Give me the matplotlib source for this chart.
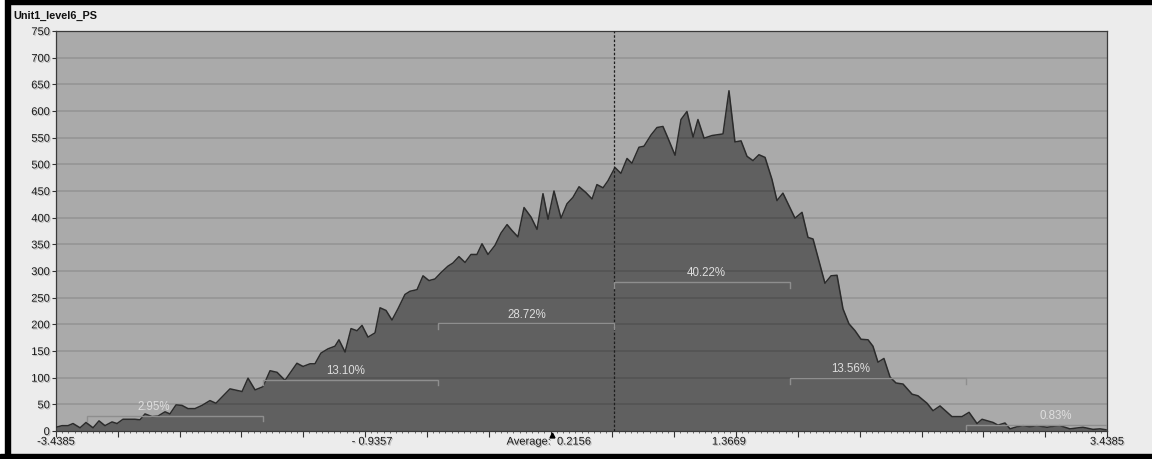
import numpy as np
import matplotlib
matplotlib.use("Agg")
import matplotlib.pyplot as plt
from matplotlib.patches import Rectangle
from matplotlib.transforms import blended_transform_factory
import matplotlib.patheffects as pe

plt.rcParams['font.family'] = ['Liberation Sans', 'DejaVu Sans']

# ---- data -------------------------------------------------------------
title = "Unit1_level6_PS"
x_min, x_max = -3.4385, 3.4385
mean_val = 0.2156
std_val = 1.1513

bin_x = [
    -3.4385, -3.399, -3.360, -3.327, -3.281, -3.242, -3.196, -3.157, -3.118, -3.072,
    -3.039, -3.000, -2.961, -2.922, -2.889, -2.856, -2.810, -2.771, -2.725, -2.693,
    -2.653, -2.614, -2.575, -2.529, -2.483, -2.431, -2.392, -2.300, -2.221, -2.182,
    -2.136, -2.084, -2.038, -1.992, -1.940, -1.862, -1.822, -1.776, -1.744, -1.705,
    -1.659, -1.613, -1.587, -1.547, -1.508, -1.469, -1.436, -1.397, -1.351, -1.318,
    -1.279, -1.240, -1.201, -1.155, -1.122, -1.076, -1.037, -0.998, -0.959, -0.919,
    -0.874, -0.841, -0.802, -0.762, -0.723, -0.684, -0.651, -0.612, -0.566, -0.527,
    -0.487, -0.455, -0.416, -0.376, -0.330, -0.291, -0.252, -0.219, -0.180, -0.134,
    -0.095, -0.056, -0.016, 0.029, 0.069, 0.101, 0.141, 0.173, 0.219, 0.258,
    0.298, 0.330, 0.376, 0.409, 0.455, 0.494, 0.533, 0.566, 0.612, 0.651,
    0.690, 0.730, 0.762, 0.802, 0.854, 0.926, 0.965, 1.004, 1.044, 1.083,
    1.122, 1.161, 1.201, 1.246, 1.279, 1.318, 1.397, 1.443, 1.482, 1.515,
    1.593, 1.633, 1.672, 1.711, 1.750, 1.790, 1.829, 1.875, 1.907, 1.940,
    1.979, 2.019, 2.058, 2.104, 2.163, 2.202, 2.261, 2.300, 2.346, 2.424,
    2.490, 2.536, 2.588, 2.621, 2.693, 2.725, 2.771, 2.804, 2.850, 2.889,
    2.935, 2.980, 3.046, 3.092, 3.131, 3.196, 3.281, 3.347, 3.393, 3.4385,
]
counts = [
    7, 10, 10, 14, 6, 16, 6, 19, 10, 17,
    14, 22, 22, 22, 21, 32, 27, 28, 36, 32,
    49, 48, 42, 42, 48, 57, 52, 79, 74, 99,
    77, 83, 113, 110, 95, 127, 121, 126, 126, 146,
    154, 159, 171, 148, 192, 188, 198, 176, 184, 231,
    226, 208, 229, 256, 262, 265, 291, 282, 285, 297,
    309, 315, 327, 316, 331, 331, 351, 331, 348, 371,
    387, 376, 364, 419, 401, 378, 445, 397, 450, 399,
    426, 438, 458, 447, 435, 462, 456, 469, 494, 483,
    511, 502, 532, 534, 555, 569, 571, 549, 517, 584,
    599, 551, 584, 549, 554, 557, 638, 542, 544, 515,
    507, 518, 513, 472, 432, 446, 399, 410, 363, 360,
    277, 291, 292, 229, 201, 188, 172, 171, 159, 129,
    136, 101, 90, 88, 69, 66, 52, 38, 47, 27,
    27, 35, 14, 22, 16, 11, 15, 4, 8, 10,
    8, 10, 7, 9, 10, 4, 7, 3, 4, 2,
]

# share of samples inside each sigma band, and the bracket heights
band_labels = ["2.95%", "13.10%", "28.72%", "40.22%", "13.56%", "0.83%"]
band_sigma = [(-3, -2), (-2, -1), (-1, 0), (0, 1), (1, 2), (2, 3)]
band_height = [28, 96, 202, 279, 99, 12]

y_ticks = list(range(0, 751, 50))

# ---- figure -----------------------------------------------------------
W, H = 1152, 460
fig = plt.figure(figsize=(W / 100, H / 100), dpi=100, facecolor="#ececec")

# window frame
fig.patches.append(Rectangle((0, 1 - 5 / H), 1, 5 / H, transform=fig.transFigure,
                             color="black", zorder=0))
fig.patches.append(Rectangle((0, 0), 5 / W, 1, transform=fig.transFigure,
                             color="white", zorder=0))
fig.patches.append(Rectangle((5 / W, 0), 5 / W, 1, transform=fig.transFigure,
                             color="black", zorder=0))
fig.patches.append(Rectangle((0, 0), 1, 5 / H, transform=fig.transFigure,
                             color="black", zorder=0))

ax_l, ax_r, ax_t, ax_b = 56, 1107, 32, 432
ax = fig.add_axes([ax_l / W, 1 - ax_b / H, (ax_r - ax_l) / W, (ax_b - ax_t) / H])
ax.set_facecolor("#aaaaaa")
ax.set_xlim(x_min, x_max)
ax.set_ylim(0, 750)

shadow = [pe.withSimplePatchShadow(offset=(0.8, -0.8), shadow_rgbFace="#9a9a9a", alpha=0.6)]

# histogram area
ax.fill_between(bin_x, counts, 0, color="#606060", zorder=2, linewidth=0)
ax.plot(bin_x, counts, color="#2b2b2b", lw=1.1, zorder=3)

# horizontal grid over the fill
for v in y_ticks[1:]:
    ax.axhline(v, color="black", alpha=0.11, lw=1.4, zorder=2.5)

# mean marker line
ax.axvline(mean_val, color="#1e1e1e", lw=0.9, ls=(0, (2, 1.5)), zorder=4)

# sigma brackets, with the label anchor given in sigma units
label_sigma = [-2.62, -1.53, -0.50, 0.52, 1.34, 2.51]
tick_drop = 10
for lab, (k0, k1), h, ks in zip(band_labels, band_sigma, band_height, label_sigma):
    xa = max(mean_val + k0 * std_val, x_min)
    xb = min(mean_val + k1 * std_val, x_max)
    ax.plot([xa, xa, xb, xb], [h - tick_drop, h, h, h - tick_drop],
            color="#8e8e8e", lw=1.0, zorder=5, solid_joinstyle="miter")
    ax.text(mean_val + ks * std_val, h + 7, lab, ha="center", va="bottom",
            fontsize=8.3, color="#dedede", zorder=6)

# y axis
ax.set_yticks(y_ticks)
ax.set_yticklabels([str(v) for v in y_ticks], fontsize=8, color="#1a1a1a")
for t in ax.get_yticklabels():
    t.set_path_effects(shadow)
ax.tick_params(axis="y", length=3, width=0.8, color="#333333", pad=1.5)

# x axis: plain tick marks, labels placed separately
major = np.linspace(x_min, x_max, 18)
minor = np.linspace(x_min, x_max, 18 * 10 - 9)
ax.set_xticks(major)
ax.set_xticks(minor, minor=True)
ax.set_xticklabels([])
ax.tick_params(axis="x", which="major", length=4, width=0.8, color="#333333")
ax.tick_params(axis="x", which="minor", length=1.6, width=0.6, color="#555555")

tr = blended_transform_factory(ax.transData, ax.transAxes)
x_labels = [(x_min, "-3.4385"), (-1.371, "- 0.9357"), (0.965, "1.3669"), (x_max, "3.4385")]
for xp, s in x_labels:
    t = ax.text(xp, -0.014, s, transform=tr, ha="center", va="top", fontsize=8,
                color="#1a1a1a")
    t.set_path_effects(shadow)
t = ax.text(-0.213, -0.014, "Average:  " + f"{mean_val:.4f}", transform=tr, ha="center",
            va="top", fontsize=8, color="#1a1a1a")
t.set_path_effects(shadow)
ax.plot([-0.193], [-0.011], marker="^", color="black", markersize=3.5,
        transform=tr, clip_on=False, zorder=6)

for side in ["left", "right", "top", "bottom"]:
    ax.spines[side].set_color("#3a3a3a")
    ax.spines[side].set_linewidth(0.9)

fig.text(13 / W, 1 - 16 / H, title, ha="left", va="center", fontsize=7.8,
         fontweight="bold", color="#111111")

fig.savefig("out.png", dpi=100, facecolor=fig.get_facecolor())
